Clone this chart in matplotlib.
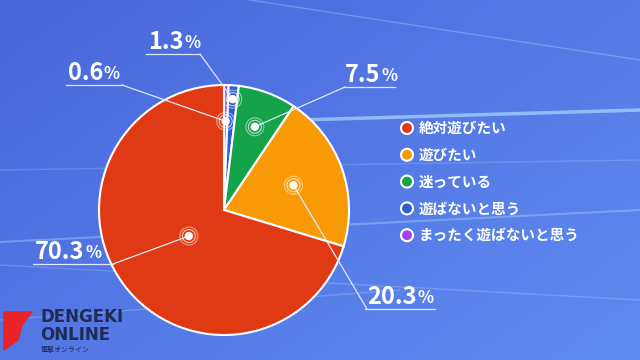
import numpy as np
from matplotlib import pyplot as plt
from matplotlib.patches import Circle, Polygon

plt.rcParams['font.family'] = ['Noto Sans CJK JP', 'DejaVu Sans']

# legend order
labels = ['絶対遊びたい', '遊びたい', '迷っている', '遊ばないと思う', 'まったく遊ばないと思う']
values = [70.3, 20.3, 7.5, 1.3, 0.6]
colors = ['#e03a14', '#f89a06', '#14a24a', '#2e5fd2', '#a441e6']

# pie is drawn clockwise from the top in reverse legend order
pie_order = [4, 3, 2, 1, 0]
dot_frac = {0: 0.35, 1: 0.59, 2: 0.71, 3: 0.89, 4: 0.71}
# label text position (px, from top-left) and underline length
label_pos = {0: (35, 252, 78), 1: (367, 297, 68), 2: (345, 75, 50),
             3: (148, 42, 52), 4: (68, 73, 54)}

W, H = 640, 360
cx, cy, R = 224, 150, 125

fig = plt.figure(figsize=(6.4, 3.6), dpi=100)
ax = fig.add_axes([0, 0, 1, 1])
ax.set_xlim(0, W)
ax.set_ylim(0, H)
ax.axis('off')

# background gradient
yy, xx = np.mgrid[0:1:200j, 0:1:300j]
t = 0.55 * xx + 0.45 * (1 - yy)
c1 = np.array([0x4a, 0x66, 0xda]) / 255
c2 = np.array([0x5e, 0x8c, 0xf0]) / 255
img = c1 + (c2 - c1) * t[..., None]
ax.imshow(img, extent=[0, W, 0, H], origin='lower', aspect='auto', zorder=0)

# light streaks
for x0, y0, x1, y1, a, lw in [(0, 118, 640, 150, 0.35, 1.5), (0, 95, 640, 60, 0.25, 1),
                              (250, 360, 640, 300, 0.3, 1), (0, 40, 400, 70, 0.25, 1),
                              (300, 240, 640, 250, 0.6, 2.5), (0, 190, 640, 200, 0.2, 1)]:
    ax.plot([x0, x1], [y0, y1], color='#b8e8ff', alpha=a, lw=lw, zorder=1)

pv = [values[i] for i in pie_order]
pc = [colors[i] for i in pie_order]
ax.pie(pv, colors=pc, startangle=90, counterclock=False, center=(cx, cy), radius=R,
       wedgeprops=dict(edgecolor='white', linewidth=1.5), frame=True)
ax.set_xlim(0, W)
ax.set_ylim(0, H)
ax.set_aspect('auto')
ax.axis('off')

# dots, leader lines, labels
ang = 90.0
for i in pie_order:
    span = values[i] * 3.6
    mid = np.deg2rad(ang - span / 2)
    ang -= span
    dx = cx + R * dot_frac[i] * np.cos(mid)
    dy = cy + R * dot_frac[i] * np.sin(mid)
    lx, ly, ul = label_pos[i]
    ly = H - ly
    uy = ly - 12
    if lx > cx:
        sx = lx
    else:
        sx = lx + ul
    ax.plot([lx - 2, lx + ul], [uy, uy], color='#dfe9ff', lw=0.9, zorder=5)
    ax.plot([sx, dx], [uy, dy], color='#dfe9ff', lw=0.9, zorder=5)
    for rr, a in [(9, 0.5), (6.5, 0.7)]:
        ax.add_patch(Circle((dx, dy), rr, fill=False, ec='white', lw=0.8, alpha=a, zorder=6))
    ax.add_patch(Circle((dx, dy), 3.5, color='white', zorder=7))
    num = f'{values[i]:.1f}'
    t1 = ax.text(lx, ly, num, color='white', fontsize=17, fontweight='bold',
                 va='center', ha='left', zorder=8)
    fig.canvas.draw()
    bb = t1.get_window_extent()
    ax.text(bb.x1 + 0.5, ly - 1, '%', color='white', fontsize=12, fontweight='bold',
            va='center', ha='left', zorder=8)

# legend
for k, (lab, col) in enumerate(zip(labels, colors)):
    y = H - (128 + k * 26.8)
    ax.add_patch(Circle((407, y), 6, fc=col, ec='white', lw=1.5, zorder=8))
    ax.text(419, y, lab, color='white', fontsize=10.5, fontweight='bold',
            va='center', ha='left', zorder=8)

# logo
ax.add_patch(Polygon([[4, 340 - 330], [4, 360 - 312], [32, 360 - 312], [22, 360 - 325],
                      [18, 360 - 340]], closed=True, color='#e8232a', zorder=8))
ax.text(40, 360 - 317, 'DENGEKI', color='#1f2a55', fontsize=12, fontweight='bold',
        va='center', ha='left', family=['DejaVu Sans'], zorder=8)
ax.text(40, 360 - 335, 'ONLINE', color='#1f2a55', fontsize=12, fontweight='bold',
        va='center', ha='left', family=['DejaVu Sans'], zorder=8)
ax.text(40, 360 - 350, '電撃オンライン', color='#1f2a55', fontsize=5,
        va='center', ha='left', zorder=8)

fig.savefig('out.png', dpi=100)
